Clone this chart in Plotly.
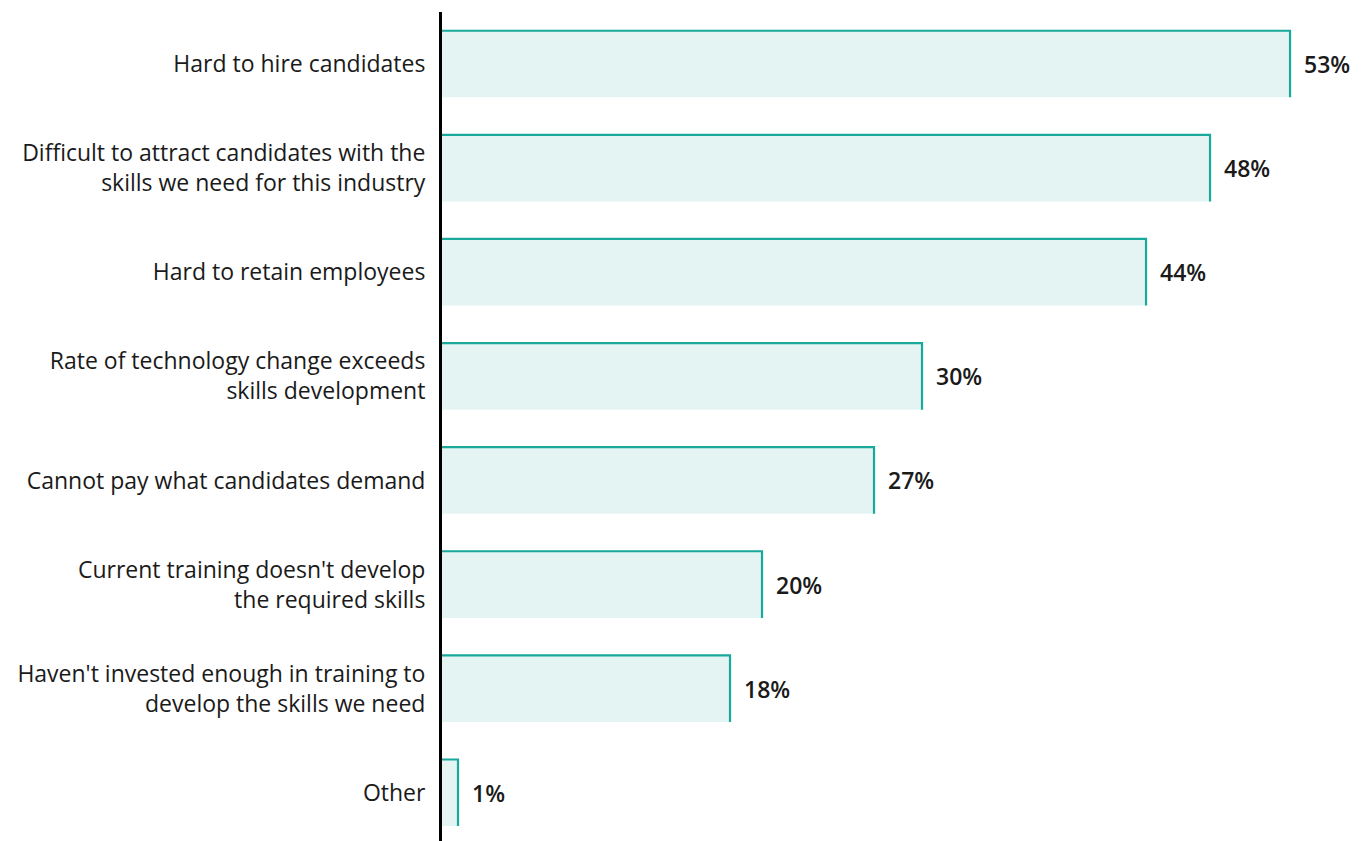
import plotly.graph_objects as go

# Survey responses: skills-gap challenges (% of respondents)
categories = [
    "Hard to hire candidates",
    "Difficult to attract candidates with the<br>skills we need for this industry",
    "Hard to retain employees",
    "Rate of technology change exceeds<br>skills development",
    "Cannot pay what candidates demand",
    "Current training doesn't develop<br>the required skills",
    "Haven't invested enough in training to<br>develop the skills we need",
    "Other",
]
values = [53, 48, 44, 30, 27, 20, 18, 1]
value_labels = ["53%", "48%", "44%", "30%", "27%", "20%", "18%", "1%"]

FILL = "#e3f4f2"
EDGE = "#19a899"
TEXT = "#1a1a1a"
FONT = "Open Sans"
BAR_W = 0.64

positions = list(range(len(categories)))

fig = go.Figure()

# Light filled bars without a full outline
fig.add_trace(go.Bar(
    x=values, y=positions, orientation="h", width=BAR_W,
    marker=dict(color=FILL, line=dict(width=0)),
    hoverinfo="skip", showlegend=False,
))

# Teal edge along the top and right side of each bar
ex, ey = [], []
for p, v in zip(positions, values):
    top, bottom = p - BAR_W / 2, p + BAR_W / 2
    ex += [0, v, v, None]
    ey += [top, top, bottom, None]
fig.add_trace(go.Scatter(
    x=ex, y=ey, mode="lines", line=dict(color=EDGE, width=2.2),
    hoverinfo="skip", showlegend=False, cliponaxis=False,
))

# Value labels just past the bar ends
for p, v, lab in zip(positions, values, value_labels):
    fig.add_annotation(
        x=v, y=p, text=lab, showarrow=False,
        xanchor="left", yanchor="middle", xshift=12,
        font=dict(family=FONT, size=23, color=TEXT, weight=600),
    )

fig.update_layout(
    width=1371, height=841,
    margin=dict(l=442, r=0, t=12, b=0),
    plot_bgcolor="white", paper_bgcolor="white",
    font=dict(family=FONT, size=21, color=TEXT),
    xaxis=dict(range=[0, 58.06], visible=False, fixedrange=True),
    yaxis=dict(
        range=[7.463, -0.5], tickvals=positions, ticktext=categories,
        showline=True, linecolor="#000000", linewidth=3,
        showgrid=False, zeroline=False, ticks="", ticklabelstandoff=9,
        tickfont=dict(family=FONT, size=23, color=TEXT, weight=400),
        fixedrange=True,
    ),
    bargap=0.36,
)

fig.write_html("out.html")
